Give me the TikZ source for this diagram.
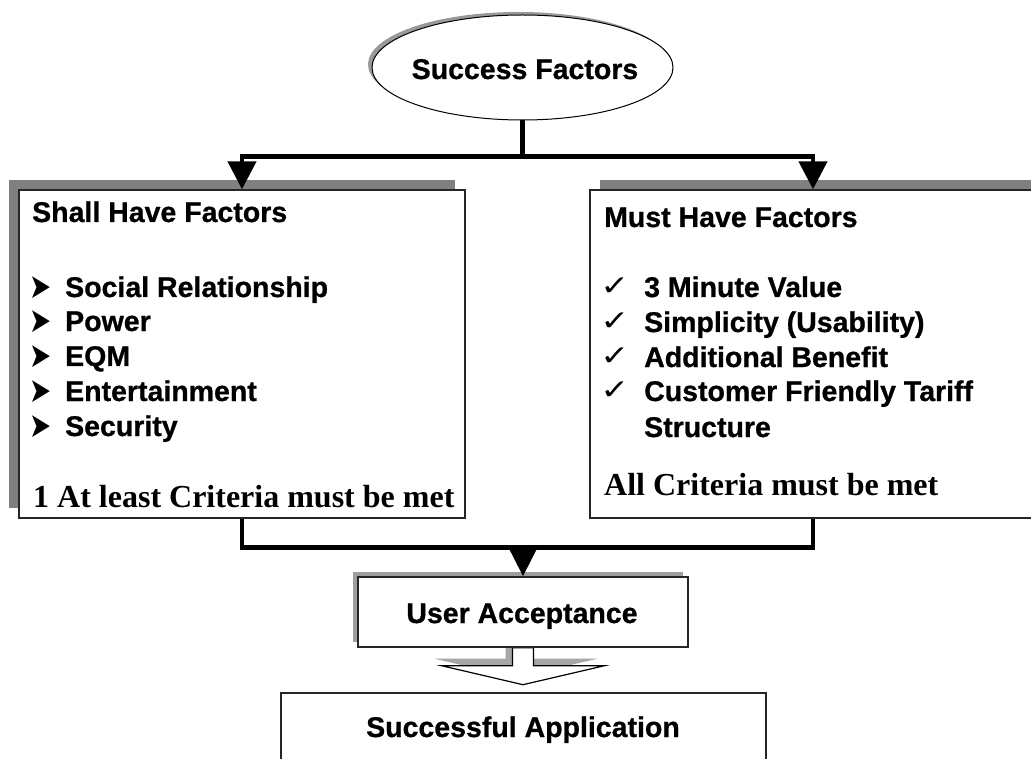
\documentclass[tikz,border=0pt]{standalone}
\usepackage{fontspec}
\setmainfont{Liberation Serif}
\newfontfamily\arial{Liberation Sans}[BoldFeatures={FakeBold=0.8}]
\newfontfamily\dejavu{DejaVu Sans}
\usetikzlibrary{arrows.meta,shapes.geometric,shadows,calc}
\pgfdeclarelayer{background}
\pgfsetlayers{background,main}
\tikzset{
  box/.style={rectangle, draw=black!85, line width=1.4pt, fill=white, inner sep=0pt},
  conn/.style={line width=4.5pt, black},
  arr/.style={conn, -{Triangle[length=28pt,width=28pt]}},
  sanstxt/.style={font=\arial\bfseries\fontsize{28.5}{30}\selectfont, inner sep=0pt, anchor=base west},
  centertxt/.style={font=\arial\bfseries\fontsize{28.5}{30}\selectfont, inner sep=0pt, anchor=base},
  seriftxt/.style={font=\bfseries\fontsize{32}{34}\selectfont, inner sep=0pt, anchor=base west},
  bullet/.style={font=\dejavu\fontsize{33}{35}\selectfont, inner sep=0pt, anchor=center},
  checkm/.style={font=\dejavu\fontsize{33}{35}\selectfont, inner sep=0pt, anchor=center},
}
\newcommand{\bul}{\scalebox{0.8}[1.05]{➤}}
\newcommand{\chk}{\scalebox{1.05}[0.85]{✓}}
\begin{document}
\begin{tikzpicture}[x=1pt,y=-1pt]
\useasboundingbox (0,0) rectangle (1031,759);
\clip (0,0) rectangle (1031,759);
\begin{pgfonlayer}{background}
\fill[white] (0,0) rectangle (1031,759);
\end{pgfonlayer}

% top ellipse
\node[ellipse, draw=black, line width=1pt, fill=white, minimum width=301pt, minimum height=105pt, inner sep=0pt,
      general shadow={fill=black!40, shadow xshift=-4pt, shadow yshift=3pt}] (sf) at (522.5,67.5) {};
\node[centertxt] (sft) at (525,79) {Success Factors};

% two factor boxes
\node[box, minimum width=446pt, minimum height=328pt,
      general shadow={fill=black!50, shadow xshift=-10pt, shadow yshift=10pt}] (shall) at (242,354) {};
\node[box, minimum width=446pt, minimum height=328pt,
      general shadow={fill=black!50, shadow xshift=10pt, shadow yshift=10pt}] (must) at (813,354) {};

% left box text
\node[sanstxt] (shh) at (32,222) {Shall Have Factors};
\node[bullet] (b1) at (41,287.5) {\bul};
\node[bullet] (b2) at (41,321.5) {\bul};
\node[bullet] (b3) at (41,356.5) {\bul};
\node[bullet] (b4) at (41,391.5) {\bul};
\node[bullet] (b5) at (41,426.5) {\bul};
\node[sanstxt] (s1) at (65,297) {Social Relationship};
\node[sanstxt] (s2) at (65,331) {Power};
\node[sanstxt] (s3) at (65,366) {EQM};
\node[sanstxt] (s4) at (65,401) {Entertainment};
\node[sanstxt] (s5) at (65,436) {Security};
\node[seriftxt] (sc) at (33,507) {1 At least Criteria must be met};

% right box text
\node[sanstxt] (mh) at (604,227) {Must Have Factors};
\node[checkm] (c1) at (615,287) {\chk};
\node[checkm] (c2) at (615,322) {\chk};
\node[checkm] (c3) at (615,357) {\chk};
\node[checkm] (c4) at (615,391) {\chk};
\node[sanstxt] (m1) at (644,297) {3 Minute Value};
\node[sanstxt] (m2) at (644,332) {Simplicity (Usability)};
\node[sanstxt] (m3) at (644,367) {Additional Benefit};
\node[sanstxt] (m4) at (644,401) {Customer Friendly Tariff};
\node[sanstxt] (m5) at (644,437) {Structure};
\node[seriftxt] (mc) at (604,495) {All Criteria must be met};

% user acceptance and successful application
\node[box, minimum width=330pt, minimum height=70pt,
      general shadow={fill=black!38, shadow xshift=-5pt, shadow yshift=5pt}] (ua) at (523,612) {};
\node[centertxt] (uat) at (522,623) {User Acceptance};
\node[box, minimum width=485pt, minimum height=94pt] (sa) at (523.5,740) {};
\node[centertxt] (sat) at (523,737) {Successful Application};

% connectors top
\coordinate (jt) at ($(sf.south)+(0,36)$);
\draw[conn] (sf.south) -- (jt);
\draw[arr] (jt) -| (shall.north);
\draw[arr] (jt) -| (must.north);

% connectors bottom
\coordinate (jb) at ($(shall.south)+(0,29)$);
\draw[conn] (shall.south) -- (jb) -| (must.south);
\draw[conn, -{Triangle[length=27pt,width=26pt]}] (jb -| ua.north) -- (ua.north);

% hollow block arrow from ua to sa
\begin{pgfonlayer}{background}
\fill[black!35] ($(ua.south)+(-7,-7)$) +(-10.5,0) -- +(-10.5,18) -- +(-81.5,18) -- +(0,37) -- +(81.5,18) -- +(10.5,18) -- +(10.5,0) -- cycle;
\draw[line width=1.2pt, fill=white] (ua.south) +(-10.5,0) -- +(-10.5,18) -- +(-81.5,18) -- +(0,37) -- +(81.5,18) -- +(10.5,18) -- +(10.5,0) -- cycle;
\end{pgfonlayer}
\end{tikzpicture}
\end{document}
